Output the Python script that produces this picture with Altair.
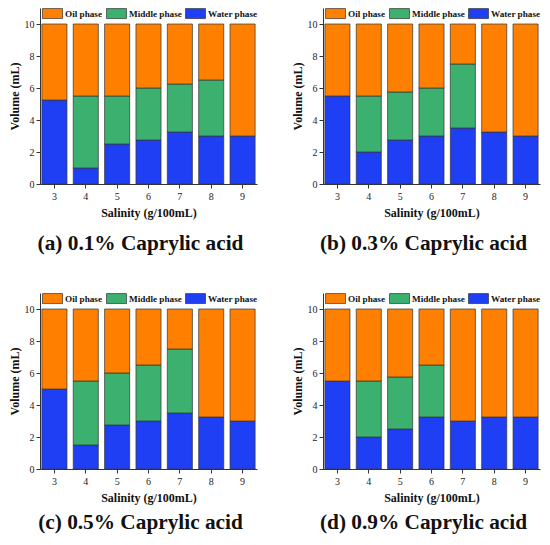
import altair as alt
import pandas as pd

salinity = [3, 4, 5, 6, 7, 8, 9]
phases = ["Oil phase", "Middle phase", "Water phase"]
colors = ["#FF8000", "#3CB06F", "#1F3FF5"]

captions = ["(a) 0.1% Caprylic acid", "(b) 0.3% Caprylic acid",
            "(c) 0.5% Caprylic acid", "(d) 0.9% Caprylic acid"]

water_a = [5.25, 1.0, 2.5, 2.75, 3.25, 3.0, 3.0]
middle_a = [0, 4.5, 3.0, 3.25, 3.0, 3.5, 0]
oil_a = [4.75, 4.5, 4.5, 4.0, 3.75, 3.5, 7.0]

water_b = [5.5, 2.0, 2.75, 3.0, 3.5, 3.25, 3.0]
middle_b = [0, 3.5, 3.0, 3.0, 4.0, 0, 0]
oil_b = [4.5, 4.5, 4.25, 4.0, 2.5, 6.75, 7.0]

water_c = [5.0, 1.5, 2.75, 3.0, 3.5, 3.25, 3.0]
middle_c = [0, 4.0, 3.25, 3.5, 4.0, 0, 0]
oil_c = [5.0, 4.5, 4.0, 3.5, 2.5, 6.75, 7.0]

water_d = [5.5, 2.0, 2.5, 3.25, 3.0, 3.25, 3.25]
middle_d = [0, 3.5, 3.25, 3.25, 0, 0, 0]
oil_d = [4.5, 4.5, 4.25, 3.5, 7.0, 6.75, 6.75]

SERIF = "Liberation Serif"


def panel(water, middle, oil, caption, cap_offset):
    rows = []
    for i, s in enumerate(salinity):
        for order, (ph, vals) in enumerate(zip(["Water phase", "Middle phase", "Oil phase"],
                                               [water, middle, oil])):
            if vals[i] > 0:
                rows.append({"Salinity": s, "Phase": ph, "Volume": vals[i], "ord": order})
    df = pd.DataFrame(rows)
    leg = alt.Legend(title=None, orient="none", direction="horizontal",
                     legendX=7, legendY=0,
                     symbolType="M-2,-1H2V1H-2Z",
                     symbolSize=100, symbolStrokeColor="#333333",
                     symbolStrokeWidth=0.7, symbolOpacity=1,
                     labelFont=SERIF, labelFontSize=9.2,
                     labelFontWeight="bold", labelColor="#111111",
                     labelOffset=7, columnPadding=2, padding=0)
    return alt.Chart(df).mark_bar(stroke="#333333", strokeWidth=0.7).encode(
        x=alt.X("Salinity:O",
                scale=alt.Scale(paddingInner=0.2, paddingOuter=0.06),
                axis=alt.Axis(title="Salinity (g/100mL)", labelAngle=0,
                              labelPadding=3, titlePadding=6)),
        y=alt.Y("Volume:Q", stack="zero",
                scale=alt.Scale(domain=[0, 11], nice=False),
                axis=alt.Axis(title="Volume (mL)", values=[0, 2, 4, 6, 8, 10],
                              grid=False, labelPadding=2, titlePadding=3)),
        color=alt.Color("Phase:N",
                        scale=alt.Scale(domain=phases, range=colors),
                        legend=leg),
        order=alt.Order("ord:Q"),
    ).properties(
        width=217, height=176,
        title=alt.TitleParams(caption, orient="bottom", font=SERIF, fontSize=21.3,
                              fontWeight="bold", color="#111111", offset=cap_offset,
                              anchor="middle", frame="group", dx=-8),
    )


pa = panel(water_a, middle_a, oil_a, captions[0], 15)
pb = panel(water_b, middle_b, oil_b, captions[1], 15)
pc = panel(water_c, middle_c, oil_c, captions[2], 9)
pd_ = panel(water_d, middle_d, oil_d, captions[3], 9)

chart = alt.concat(
    pa, pb, pc, pd_, columns=2, spacing=alt.RowColnumber(row=109, column=66), bounds="flush"
).resolve_scale(
    color="independent"
).properties(padding=0, background="white").configure_view(
    stroke=None
).configure_axis(
    labelFont=SERIF, labelFontSize=10, labelColor="#222222",
    titleFont=SERIF, titleFontSize=12, titleFontWeight="bold", titleColor="#111111",
    domainColor="#333333", tickColor="#333333", tickSize=4,
)

chart.save("out.html", embed_options={"renderer": "svg", "actions": False})
